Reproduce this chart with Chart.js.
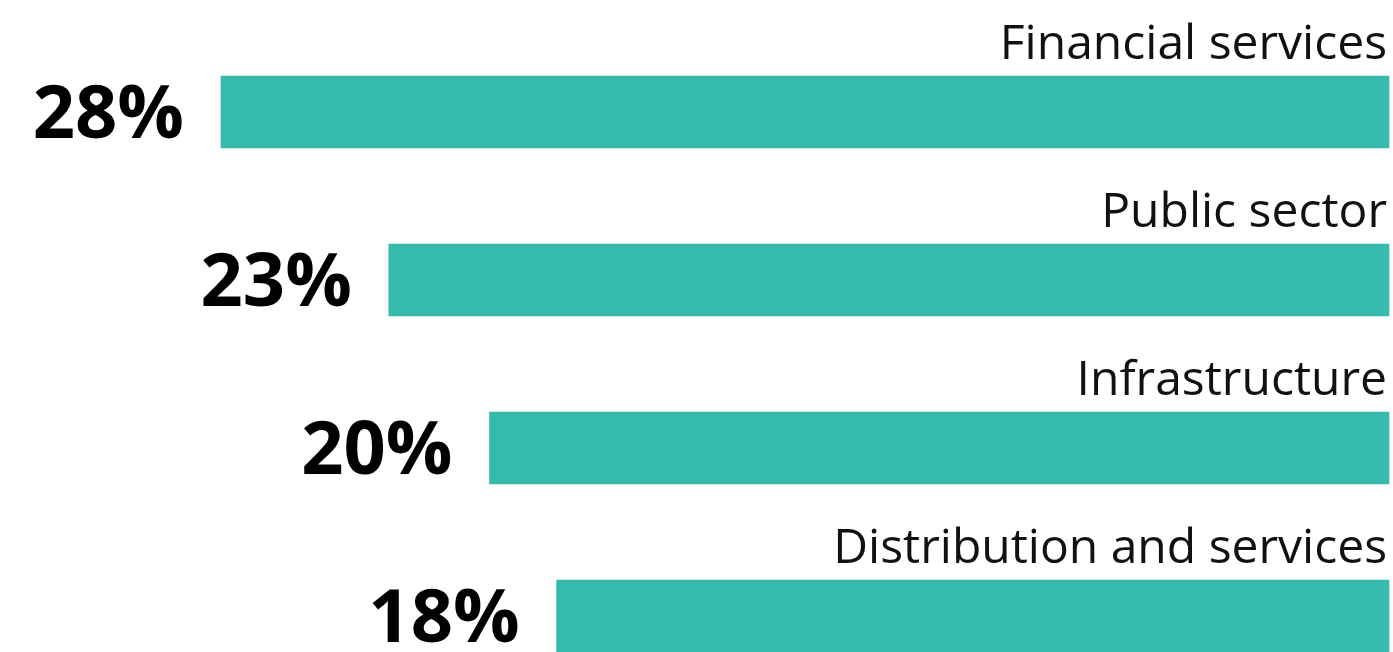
<!DOCTYPE html>
<html>
<head>
<meta charset="utf-8">
<script src="https://cdn.jsdelivr.net/npm/chart.js@4"></script>
<style>
html,body{margin:0;padding:0;background:#fff;overflow:hidden;}
#wrap{width:1393px;height:652px;position:relative;}
</style>
</head>
<body>
<div id="wrap"><canvas id="c" width="1393" height="652"></canvas></div>
<script>
const categories = ["Financial services", "Public sector", "Infrastructure", "Distribution and services"];
const values = [28, 23, 20, 18];
const valueLabels = ["28%", "23%", "20%", "18%"];
const AXIS_MIN = -6.8;
const AXIS_MAX = 28;

const labelPlugin = {
  id: 'labels',
  afterDatasetsDraw(chart) {
    const ctx = chart.ctx;
    const meta = chart.getDatasetMeta(0);
    const area = chart.chartArea;
    ctx.save();
    meta.data.forEach((bar, i) => {
      const y = bar.y;
      const left = Math.min(bar.x, bar.base);
      ctx.fillStyle = '#111';
      ctx.font = '48px "Open Sans"';
      ctx.textAlign = 'right';
      ctx.textBaseline = 'alphabetic';
      ctx.fillText(categories[i], area.right - 2, y - 53);
      ctx.fillStyle = '#000';
      ctx.font = 'bold 74px "Open Sans"';
      ctx.fillText(valueLabels[i], left - 37, y + 26);
    });
    ctx.restore();
  }
};

new Chart(document.getElementById('c'), {
  type: 'bar',
  data: {
    labels: categories,
    datasets: [{
      data: values,
      base: AXIS_MIN,
      backgroundColor: '#34bbae',
      borderWidth: 0,
      barThickness: 72,
      clip: false
    }]
  },
  options: {
    indexAxis: 'y',
    responsive: false,
    animation: false,
    events: [],
    layout: { padding: { left: 221, right: 4, top: 112, bottom: 36 } },
    plugins: { legend: { display: false }, tooltip: { enabled: false } },
    scales: {
      x: { type: 'linear', min: AXIS_MIN, max: AXIS_MAX, reverse: true, display: false },
      y: { type: 'category', offset: false, display: false }
    }
  },
  plugins: [labelPlugin]
});
</script>
</body>
</html>
